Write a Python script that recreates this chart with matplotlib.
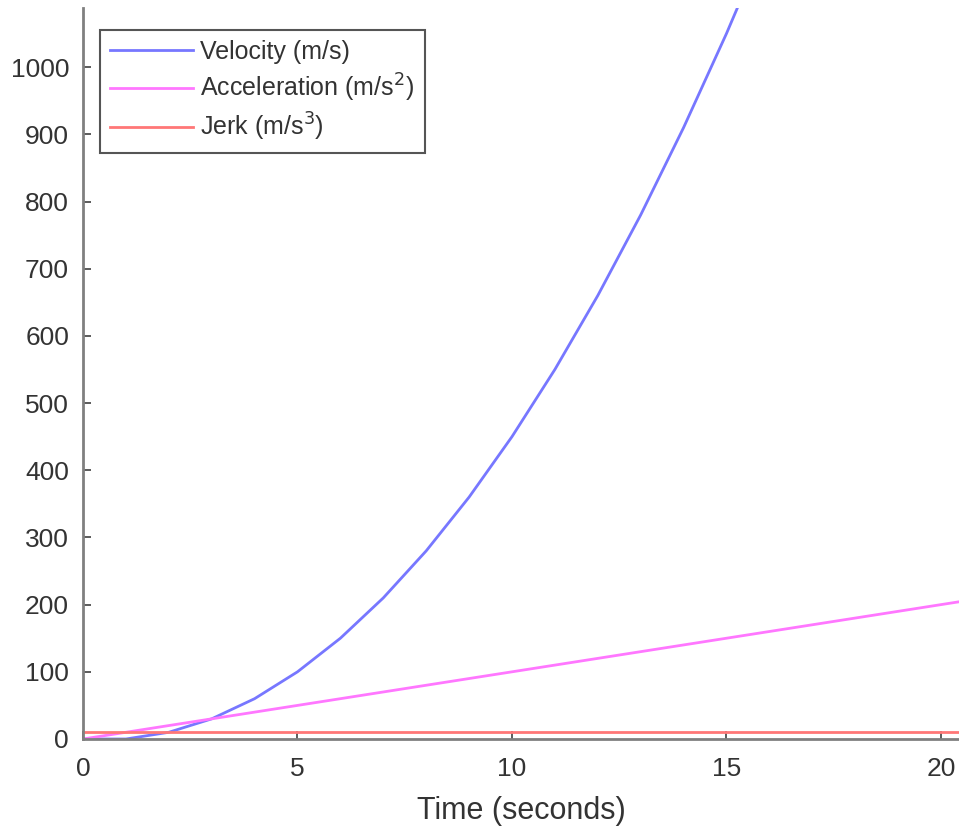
import numpy as np
import matplotlib
matplotlib.use('Agg')
from matplotlib import pyplot as plt

plt.rcParams['font.family'] = ['Liberation Sans', 'DejaVu Sans']

# values, one per second
t = np.arange(0, 22)
velocity = [0, 0, 10, 30, 60, 100, 150, 210, 280, 360, 450, 550, 660, 780,
            910, 1050, 1200, 1360, 1530, 1710, 1900, 2100]
acceleration = [0, 10, 20, 30, 40, 50, 60, 70, 80, 90, 100, 110, 120, 130,
                140, 150, 160, 170, 180, 190, 200, 210]
jerk = [10] * 22

fig = plt.figure(figsize=(9.59, 8.27), dpi=100)
ax = fig.add_axes([83/959, 88/827, 876/959, 731/827])

ax.plot(t, velocity, color='#7777ff', lw=2, label='Velocity (m/s)')
ax.plot(t, acceleration, color='#ff77ff', lw=2, label='Acceleration (m/s$^2$)')
ax.plot(t, jerk, color='#ff7777', lw=2, label='Jerk (m/s$^3$)')

ax.set_xlim(0, 20.42)
ax.set_ylim(0, 1088)
ax.set_xticks([0, 5, 10, 15, 20])
ax.set_yticks(range(0, 1001, 100))
ax.spines['top'].set_visible(False)
ax.spines['right'].set_visible(False)
for s in ['left', 'bottom']:
    ax.spines[s].set_color('#808080')
    ax.spines[s].set_linewidth(2)
ax.tick_params(direction='in', length=6, width=1.2, color='#404040',
               labelcolor='#333333', labelsize=19)
ax.tick_params(axis='x', pad=13)
ax.tick_params(axis='y', pad=10)
ax.set_xlabel('Time (seconds)', fontsize=22, color='#333333', labelpad=11)

leg = ax.legend(loc='upper left', bbox_to_anchor=(17/876, 709/731), borderaxespad=0,
                fontsize=18, fancybox=False, framealpha=1, edgecolor='#555555',
                handlelength=3.3, borderpad=0.4, labelspacing=0.3, handletextpad=0.32)
leg.get_frame().set_linewidth(1.5)
for txt in leg.get_texts():
    txt.set_color('#333333')

fig.savefig('out.png', dpi=100)
